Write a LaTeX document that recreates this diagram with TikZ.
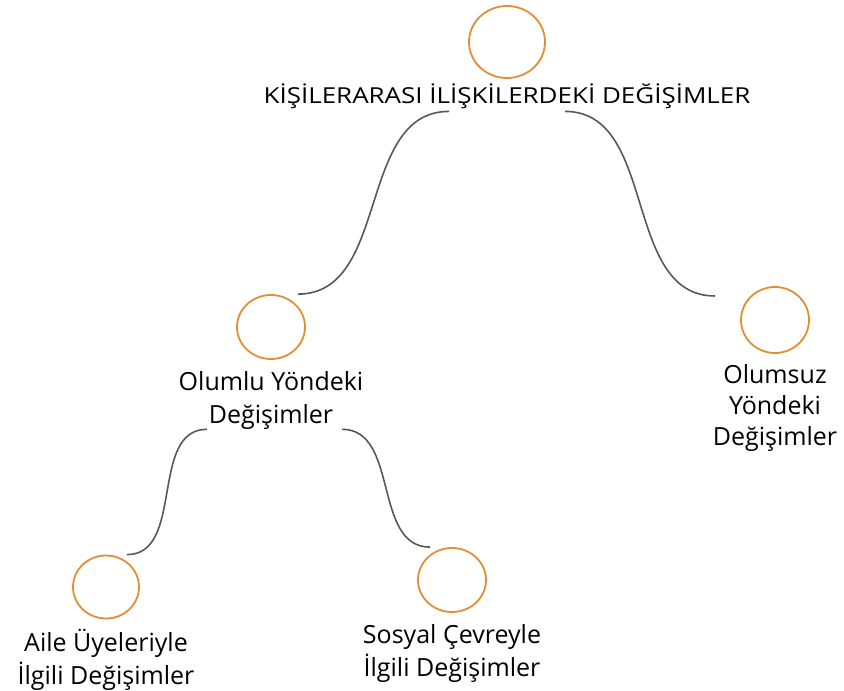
\documentclass[tikz,border=0pt]{standalone}
\usepackage{fontspec}
\setmainfont{Open Sans}
\usetikzlibrary{shapes.geometric, positioning, calc}
\definecolor{circColor}{RGB}{226,142,52}
\definecolor{linkColor}{RGB}{88,88,88}
\tikzset{
    bubble/.style={
        ellipse,
        draw=circColor,
        line width=1.8pt,
        minimum width=68pt,
        minimum height=64pt,
        inner sep=0pt
    },
    caption/.style={
        align=center,
        inner sep=0pt,
        font=\fontsize{25}{33}\selectfont
    },
    link/.style={
        draw=linkColor,
        line width=1.6pt
    }
}

\begin{document}
\begin{tikzpicture}[x=1pt,y=1pt]
    \useasboundingbox (0,0) rectangle (844,691);
    % circles
    \node[bubble, minimum width=76pt, minimum height=72pt] (ctop) at (507,649) {};
    \node[bubble] (cmid) at (271,364) {};
    \node[bubble, minimum height=66pt] (cright) at (775,371) {};
    \node[bubble, minimum width=66pt, minimum height=63pt] (cbl) at (106,104) {};
    \node[bubble] (cbr) at (452,111) {};

    % captions
    \node[caption, font=\fontsize{22}{28}\selectfont, xscale=1.18, below=5pt of ctop] (ttop) {KİŞİLERARASI İLİŞKİLERDEKİ DEĞİŞİMLER};
    \node[caption, below=11pt of cmid] (tmid) {Olumlu Yöndeki\\Değişimler};
    \node[caption, font=\fontsize{25}{31}\selectfont, below=10pt of cright] (tright) {Olumsuz\\Yöndeki\\Değişimler};
    \node[caption, below=10pt of cbl] (tbl) {Aile Üyeleriyle\\İlgili Değişimler};
    \node[caption, below=11pt of cbr] (tbr) {Sosyal Çevreyle\\İlgili Değişimler};

    % connectors
    \draw[link] ([xshift=-58pt,yshift=-2pt]ttop.south) to[out=180,in=0] ([xshift=27pt]cmid.north);
    \draw[link] ([xshift=58pt,yshift=-2pt]ttop.south) to[out=0,in=180] ([xshift=-60pt,yshift=24pt]cright.center);
    \draw[link] ([xshift=-64pt]tmid.south) to[out=180,in=0] ([xshift=21pt]cbl.north);
    \draw[link] ([xshift=71pt]tmid.south) to[out=0,in=180] ([xshift=-22pt]cbr.north);
\end{tikzpicture}
\end{document}
